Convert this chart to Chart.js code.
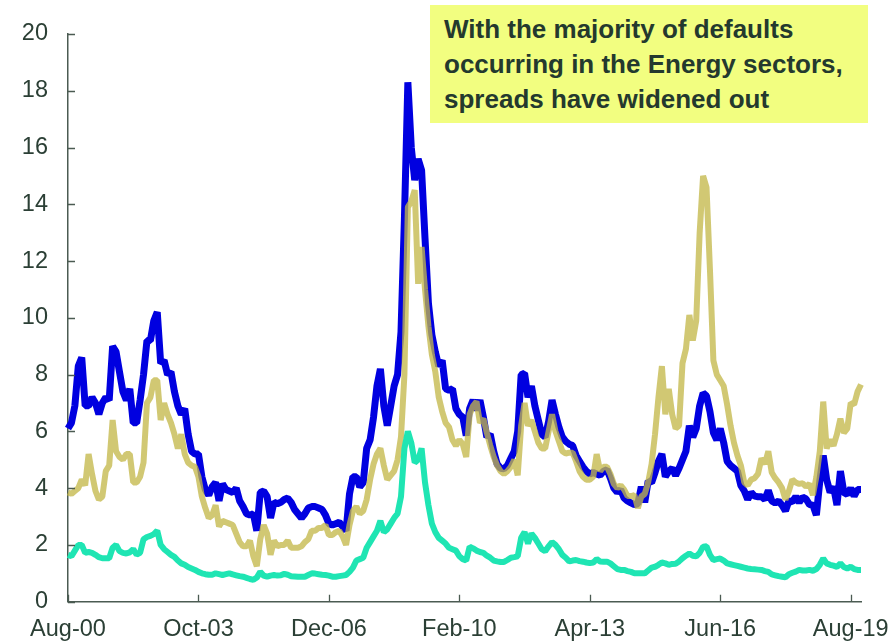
<!DOCTYPE html>
<html><head><meta charset="utf-8">
<script src="https://cdn.jsdelivr.net/npm/chart.js@4"></script>
<style>
html,body{margin:0;padding:0;background:#fff;}
#wrap{position:relative;width:891px;height:643px;}
canvas{position:absolute;left:0;top:0;}
#note{position:absolute;left:430px;top:5px;width:438px;height:118px;background:#f2fe80;box-sizing:border-box;padding:7px 0 0 14px;font:bold 26px "Liberation Sans",Arial,sans-serif;line-height:35px;color:#24392e;white-space:nowrap;}
</style></head><body>
<div id="wrap"><canvas id="c" width="891" height="643"></canvas>
<div id="note">With the majority of defaults<br>occurring in the Energy sectors,<br>spreads have widened out</div></div>
<script>
const startYear = 2000, startMonth = 7; // Aug-00, monthly
const tickLabels = ['Aug-00','Oct-03','Dec-06','Feb-10','Apr-13','Jun-16','Aug-19'];
const yTicks = {min:0, max:20, step:2};

const highYield = [6.1,6.3,6.9,8.3,8.6,6.9,6.9,7.2,7.0,6.6,7.0,7.2,7.1,9.0,8.8,8.1,7.4,7.1,7.5,6.3,
6.3,7.1,8.0,9.2,9.2,9.9,10.2,8.4,8.5,8.0,8.1,7.4,6.9,6.6,6.8,5.9,5.3,5.2,5.2,4.4,
3.95,3.75,4.05,4.2,3.55,4.15,3.95,3.9,3.85,4.0,3.55,3.35,3.1,3.05,3.1,2.5,3.85,3.9,3.7,2.95,
3.5,3.45,3.5,3.6,3.65,3.5,3.25,3.1,2.95,3.1,3.3,3.35,3.35,3.3,3.25,3.05,2.75,2.7,2.75,2.8,
2.65,2.5,3.8,4.4,4.4,4.05,4.2,5.4,5.7,6.5,7.6,8.2,6.9,6.2,6.9,7.6,8.0,9.5,13.5,18.3,
16.0,14.85,15.6,15.2,12.8,10.5,9.4,8.8,8.3,8.5,7.5,7.45,7.5,6.8,6.6,6.5,5.85,6.8,7.1,6.75,
7.1,6.5,5.8,5.9,5.3,4.85,4.7,4.68,4.8,5.05,5.3,6.0,8.0,8.05,7.2,7.6,6.9,6.4,5.9,5.8,
6.35,7.1,6.6,6.15,5.8,5.65,5.55,5.5,5.15,4.95,4.75,4.6,4.5,4.55,4.5,4.45,4.6,4.65,4.35,4.0,
3.85,3.95,3.65,3.55,3.48,3.42,3.45,4.05,3.5,4.25,4.2,4.55,4.95,5.2,4.4,4.6,4.7,4.45,4.7,5.0,
5.3,6.2,5.8,6.1,6.9,7.35,7.25,6.7,5.95,5.7,6.1,5.6,4.95,4.8,4.7,4.6,4.1,3.9,3.6,3.85,
3.72,3.7,3.7,3.6,3.92,3.55,3.48,3.55,3.4,3.2,3.55,3.52,3.7,3.5,3.68,3.62,3.42,3.4,3.05,4.25,
5.15,4.3,3.85,4.05,3.4,4.6,3.85,3.78,4.0,3.72,3.95,3.95];

const energy = [3.85,3.8,3.9,4.0,4.3,4.1,5.2,4.5,3.9,3.6,3.7,4.6,4.8,6.4,5.3,5.1,5.0,5.2,5.2,4.2,
4.2,4.4,4.9,7.0,7.2,7.8,7.8,6.4,7.0,6.6,6.3,5.9,5.4,5.9,5.2,4.9,4.8,4.75,4.4,3.7,
3.3,2.95,3.05,3.4,2.65,2.85,2.8,2.75,2.7,2.4,2.1,1.95,1.95,2.15,1.6,1.25,2.2,2.7,2.4,1.65,
2.15,1.95,2.0,2.0,2.15,1.9,1.9,1.9,1.95,2.1,2.2,2.5,2.5,2.6,2.6,2.7,2.35,2.35,2.45,2.5,
2.3,2.0,2.7,3.2,3.35,3.1,3.2,3.6,4.3,4.85,5.2,5.4,4.8,4.3,4.45,4.6,5.0,5.8,8.0,13.9,
14.1,14.5,11.2,12.5,11.0,9.7,8.7,8.1,7.2,6.7,6.3,6.15,5.7,5.5,5.7,5.55,5.1,6.6,6.9,7.05,
6.3,6.45,5.95,5.5,5.1,4.8,4.6,4.5,4.6,4.75,5.0,4.45,6.2,7.0,6.2,6.4,6.0,5.6,5.4,5.4,
6.0,6.6,6.0,5.65,5.3,5.22,5.25,5.25,4.95,4.6,4.4,4.3,4.3,4.4,5.2,4.6,4.75,4.75,4.5,4.15,
4.0,4.1,3.95,3.72,3.72,3.75,3.3,3.7,3.8,4.2,4.85,5.9,7.2,8.3,6.6,7.5,6.6,6.1,6.2,8.4,
8.9,10.1,9.2,9.9,13.0,15.0,14.6,11.7,8.5,8.0,7.8,7.6,6.95,6.2,5.6,5.15,4.8,4.2,4.1,4.3,
4.35,4.5,5.05,4.85,5.3,4.55,4.35,4.2,4.0,3.6,3.9,4.3,4.2,4.15,4.17,4.05,4.15,3.75,4.4,5.3,
7.05,5.4,5.7,5.5,5.9,6.45,5.95,6.1,7.0,6.95,7.4,7.65];

const investmentGrade = [1.65,1.6,1.8,2.0,2.0,1.72,1.75,1.72,1.65,1.57,1.53,1.53,1.53,1.9,2.0,1.78,1.72,1.7,1.74,1.85,
1.66,1.72,2.2,2.28,2.32,2.38,2.5,2.0,1.85,1.75,1.65,1.58,1.45,1.35,1.3,1.22,1.17,1.12,1.05,1.0,
0.97,0.95,0.95,1.0,0.97,0.94,0.97,1.0,0.96,0.93,0.9,0.88,0.84,0.8,0.77,0.85,1.05,0.92,0.88,0.92,
0.94,0.92,0.93,0.98,0.95,0.9,0.89,0.88,0.88,0.88,0.94,1.0,0.99,0.97,0.95,0.94,0.92,0.88,0.88,0.9,
0.92,0.94,1.05,1.2,1.45,1.5,1.55,1.9,2.1,2.3,2.5,2.85,2.45,2.55,2.75,2.95,3.1,3.7,5.4,6.0,
5.6,4.9,5.0,5.4,4.2,3.4,2.75,2.45,2.25,2.15,2.05,1.9,1.85,1.8,1.6,1.5,1.45,1.94,1.88,1.8,
1.75,1.72,1.62,1.55,1.45,1.42,1.4,1.4,1.47,1.55,1.57,1.6,2.25,2.45,2.05,2.4,2.25,2.05,1.85,1.78,
1.95,2.1,2.0,1.85,1.65,1.55,1.42,1.45,1.47,1.43,1.41,1.38,1.36,1.38,1.5,1.42,1.41,1.41,1.35,1.25,
1.15,1.12,1.12,1.08,1.05,1.0,1.0,1.0,1.0,1.1,1.2,1.23,1.3,1.38,1.35,1.3,1.33,1.34,1.42,1.53,
1.62,1.7,1.62,1.6,1.72,1.94,1.95,1.65,1.47,1.5,1.52,1.45,1.35,1.32,1.29,1.26,1.23,1.2,1.17,1.15,
1.14,1.13,1.12,1.08,1.05,0.96,0.93,0.9,0.88,0.86,0.97,1.02,1.06,1.12,1.1,1.1,1.12,1.09,1.15,1.3,
1.52,1.35,1.3,1.27,1.23,1.35,1.22,1.17,1.23,1.15,1.12,1.12];

const monthNames = ['Jan','Feb','Mar','Apr','May','Jun','Jul','Aug','Sep','Oct','Nov','Dec'];
const categories = highYield.map((_, i) => {
  const t = startMonth + i;
  const yr = (startYear + Math.floor(t / 12)) % 100;
  return monthNames[t % 12] + '-' + String(yr).padStart(2, '0');
});

const axisColor = '#4b5b52';
const textColor = '#2b3f35';
const font = {family: '"Liberation Sans", Arial, sans-serif', size: 23.5};

const innerTicks = {
  id: 'innerTicks',
  afterDraw(chart) {
    const {ctx, scales: {x, y}} = chart;
    ctx.save();
    ctx.strokeStyle = axisColor;
    ctx.lineWidth = 1.3;
    ctx.beginPath();
    tickLabels.forEach(l => {
      const i = categories.indexOf(l);
      if (i < 0) return;
      const px = Math.round(x.getPixelForValue(i)) + 0.5;
      ctx.moveTo(px, y.bottom);
      ctx.lineTo(px, y.bottom - 7);
    });
    y.ticks.forEach(t => {
      const py = Math.round(y.getPixelForValue(t.value)) + 0.5;
      ctx.moveTo(x.left, py);
      ctx.lineTo(x.left + 7, py);
    });
    ctx.stroke();
    ctx.restore();
  }
};

new Chart(document.getElementById('c'), {
  type: 'line',
  data: {
    labels: categories,
    datasets: [
      {label: 'Investment grade', data: investmentGrade, borderColor: '#1fe5b3', borderWidth: 6, order: 1},
      {label: 'Energy', data: energy, borderColor: 'rgba(195,183,73,0.77)', borderWidth: 6, order: 2},
      {label: 'High yield', data: highYield, borderColor: '#0000e0', borderWidth: 7, order: 3}
    ].map(d => Object.assign(d, {pointRadius: 0, tension: 0, fill: false, borderJoinStyle: 'bevel'}))
  },
  options: {
    responsive: false,
    animation: false,
    devicePixelRatio: 1,
    layout: {padding: {top: 34, right: 30, left: 0, bottom: 0}},
    plugins: {legend: {display: false}, tooltip: {enabled: false}},
    scales: {
      x: {
        type: 'category',
        offset: false,
        grid: {display: false},
        border: {display: true, color: axisColor, width: 1.5},
        ticks: {
          autoSkip: false, maxRotation: 0, minRotation: 0, padding: 6,
          color: textColor, font: font,
          callback: function(v) { const l = this.getLabelForValue(v); return tickLabels.includes(l) ? l : null; }
        },
        afterFit: s => { s.height = 41.3; s.paddingLeft = 0; s.paddingRight = 0; }
      },
      y: {
        min: yTicks.min, max: yTicks.max,
        grid: {display: false},
        border: {display: true, color: axisColor, width: 1.5},
        ticks: {stepSize: yTicks.step, padding: 12, color: textColor, font: font},
        afterFit: s => { s.width = 68; s.paddingTop = 0; s.paddingBottom = 0; }
      }
    }
  },
  plugins: [innerTicks]
});
</script>
</body></html>
